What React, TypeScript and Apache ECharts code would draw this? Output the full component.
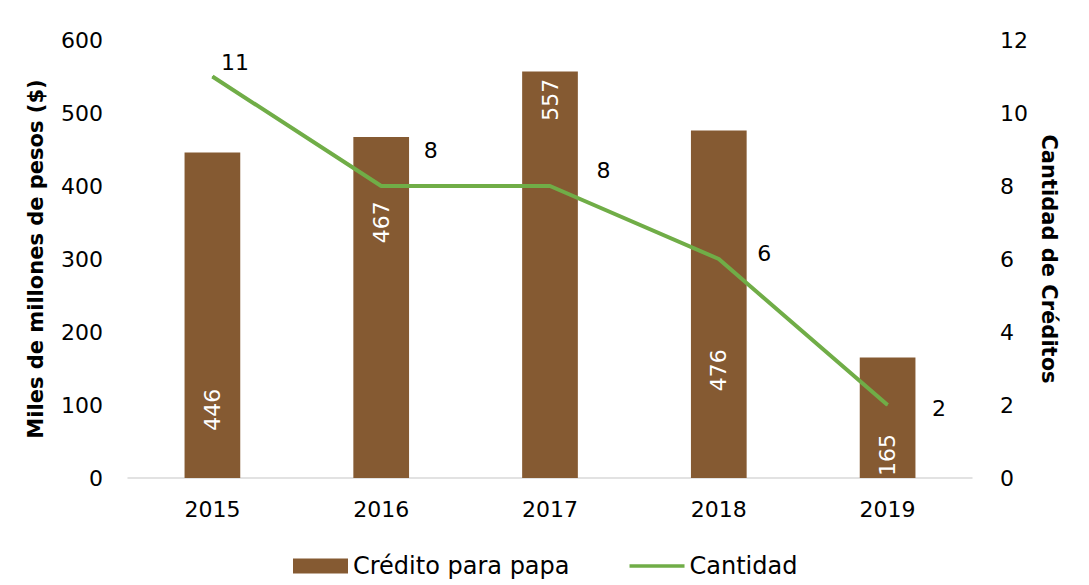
import React, { useEffect, useRef } from "react";
import * as echarts from "echarts";

const years = ["2015", "2016", "2017", "2018", "2019"];
const credito = [446, 467, 557, 476, 165];
const cantidad = [11, 8, 8, 6, 2];
const leftTicks = { min: 0, max: 600, interval: 100 };
const rightTicks = { min: 0, max: 12, interval: 2 };

// label placement styles (fraction of bar height from top; pixel offsets for line labels)
const barLabelFrac = ["79%", "25%", "7%", "69%", "81%"];
const lineLabelOffset = [[8, -14], [42, -36], [46, -16], [38, -6], [44, 3]];

const FONT = "DejaVu Sans";
const FS = 22;

export default function App() {
  const ref = useRef<HTMLDivElement>(null);
  useEffect(() => {
    const chart = echarts.init(ref.current!, null, { renderer: "svg" });
    chart.setOption({
      animation: false,
      backgroundColor: "#ffffff",
      textStyle: { fontFamily: FONT },
      grid: { left: 128, right: 117, top: 40, bottom: 107 },
      legend: {
        bottom: 2,
        left: 288,
        itemGap: 60,
        itemWidth: 55,
        itemHeight: 15,
        textStyle: { fontSize: 24, color: "#000", fontFamily: FONT },
        data: [
          { name: "Crédito para papa", icon: "rect" },
          {
            name: "Cantidad",
            icon: "path://M0,0 L60,0 L60,4 L0,4 Z",
            itemStyle: { color: "#70AD47" },
          },
        ],
      },
      xAxis: {
        type: "category",
        data: years,
        axisTick: { show: false },
        axisLine: { lineStyle: { color: "#d9d9d9", width: 1.5 } },
        axisLabel: { fontSize: FS, color: "#000", margin: 20, fontFamily: FONT },
      },
      yAxis: [
        {
          type: "value",
          ...leftTicks,
          name: "Miles de millones de pesos ($)",
          nameLocation: "middle",
          nameGap: 82,
          nameTextStyle: { fontSize: 21, fontWeight: "bold", color: "#000", fontFamily: FONT },
          splitLine: { show: false },
          axisLine: { show: false },
          axisTick: { show: false },
          axisLabel: { fontSize: FS, color: "#000", margin: 25, fontFamily: FONT },
        },
        {
          type: "value",
          ...rightTicks,
          name: "Cantidad de Créditos",
          nameLocation: "middle",
          nameRotate: -90,
          nameGap: 66,
          nameTextStyle: { fontSize: 21, fontWeight: "bold", color: "#000", fontFamily: FONT },
          splitLine: { show: false },
          axisLine: { show: false },
          axisTick: { show: false },
          axisLabel: { fontSize: FS, color: "#000", margin: 28, fontFamily: FONT },
        },
      ],
      series: [
        {
          name: "Crédito para papa",
          type: "bar",
          barWidth: "33%",
          itemStyle: { color: "#855A32" },
          data: credito.map((v, i) => ({
            value: v,
            label: {
              show: true,
              position: ["50%", barLabelFrac[i]],
              rotate: 90,
              align: "center",
              verticalAlign: "middle",
              color: "#fff",
              fontSize: FS,
              fontFamily: FONT,
            },
          })),
        },
        {
          name: "Cantidad",
          type: "line",
          yAxisIndex: 1,
          showSymbol: true,
          symbol: "circle",
          symbolSize: 1,
          lineStyle: { color: "#70AD47", width: 4 },
          itemStyle: { color: "#70AD47" },
          data: cantidad.map((v, i) => ({
            value: v,
            label: {
              show: true,
              position: "right",
              distance: 0,
              offset: lineLabelOffset[i],
              color: "#000",
              fontSize: FS,
              fontFamily: FONT,
            },
          })),
        },
      ],
    });
    return () => chart.dispose();
  }, []);
  return <div ref={ref} style={{ width: 1089, height: 585, position: "fixed", left: 0, top: 0 }} />;
}
